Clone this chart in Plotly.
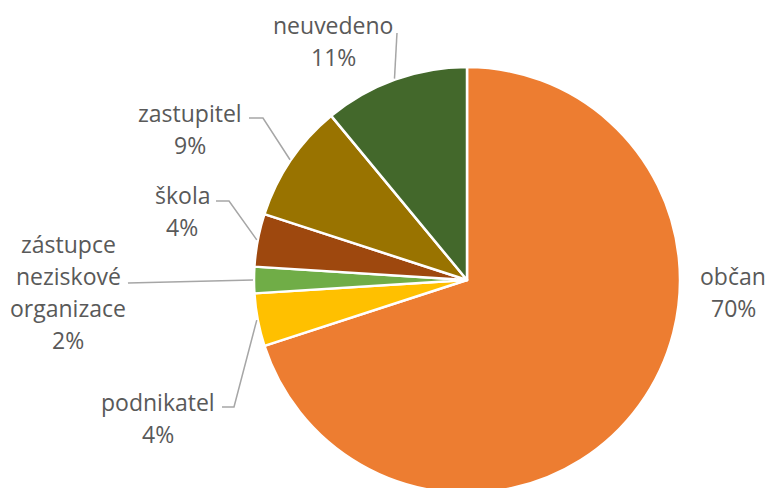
import math
import plotly.graph_objects as go

# data (clockwise from 12 o'clock)
labels = ["občan", "podnikatel", "zástupce<br>neziskové<br>organizace", "škola", "zastupitel", "neuvedeno"]
values = [70, 4, 2, 4, 9, 11]
colors = ["#ED7D31", "#FFC000", "#70AD47", "#9E480E", "#997300", "#43682B"]

W, H = 775, 488
OFF = 8  # page body margin
cx, cy, r = 467, 280, 213  # pie centre / radius in screen px

# label centre (px) and leader elbow points (px) - layout only
label_pos = [(733, 292), (158, 418), (68, 292), (182, 211), (190, 129), (333, 41)]
leaders = [
    None,
    [(222, 407), (234, 407)],
    [(128, 283)],
    [(216, 201), (229, 201)],
    [(249, 118), (263, 118)],
    [(397, 33)],
]
LINE_H = 32


def px2paper(x, y):
    return (x - OFF) / W, 1 - (y - OFF) / H


x0, y1 = px2paper(cx - r, cy - r)
x1, y0 = px2paper(cx + r, cy + r)
fig = go.Figure(go.Pie(
    labels=labels, values=values, sort=False, direction="clockwise", rotation=0,
    marker=dict(colors=colors, line=dict(color="white", width=2.5)),
    textinfo="none", hoverinfo="label+percent", showlegend=False,
    domain=dict(x=[x0, x1], y=[y0, y1]),
))

total = sum(values)
cum = 0
for lab, v, pos, lead in zip(labels, values, label_pos, leaders):
    mid = (cum + v / 2) / total * 2 * math.pi
    cum += v
    pct = round(v / total * 100)
    lines = lab.split("<br>") + [f"{pct}%"]
    n = len(lines)
    for i, t in enumerate(lines):
        lx, ly = px2paper(pos[0], pos[1] + (i - (n - 1) / 2) * LINE_H)
        fig.add_annotation(x=lx, y=ly, xref="paper", yref="paper", showarrow=False,
                           xanchor="center", yanchor="middle", text=t,
                           font=dict(family="Open Sans", size=23, color="#595959"))
    if lead:
        ex, ey = cx + (r + 1) * math.sin(mid), cy - (r + 1) * math.cos(mid)
        pts = [px2paper(*p) for p in lead] + [px2paper(ex, ey)]
        path = "M " + " L ".join(f"{a:.4f} {b:.4f}" for a, b in pts)
        fig.add_shape(type="path", path=path, xref="paper", yref="paper",
                      line=dict(color="#A6A6A6", width=1.5))

fig.update_layout(width=W, height=H, margin=dict(l=0, r=0, t=0, b=0),
                  paper_bgcolor="white", plot_bgcolor="white")
fig.write_html("out.html")
